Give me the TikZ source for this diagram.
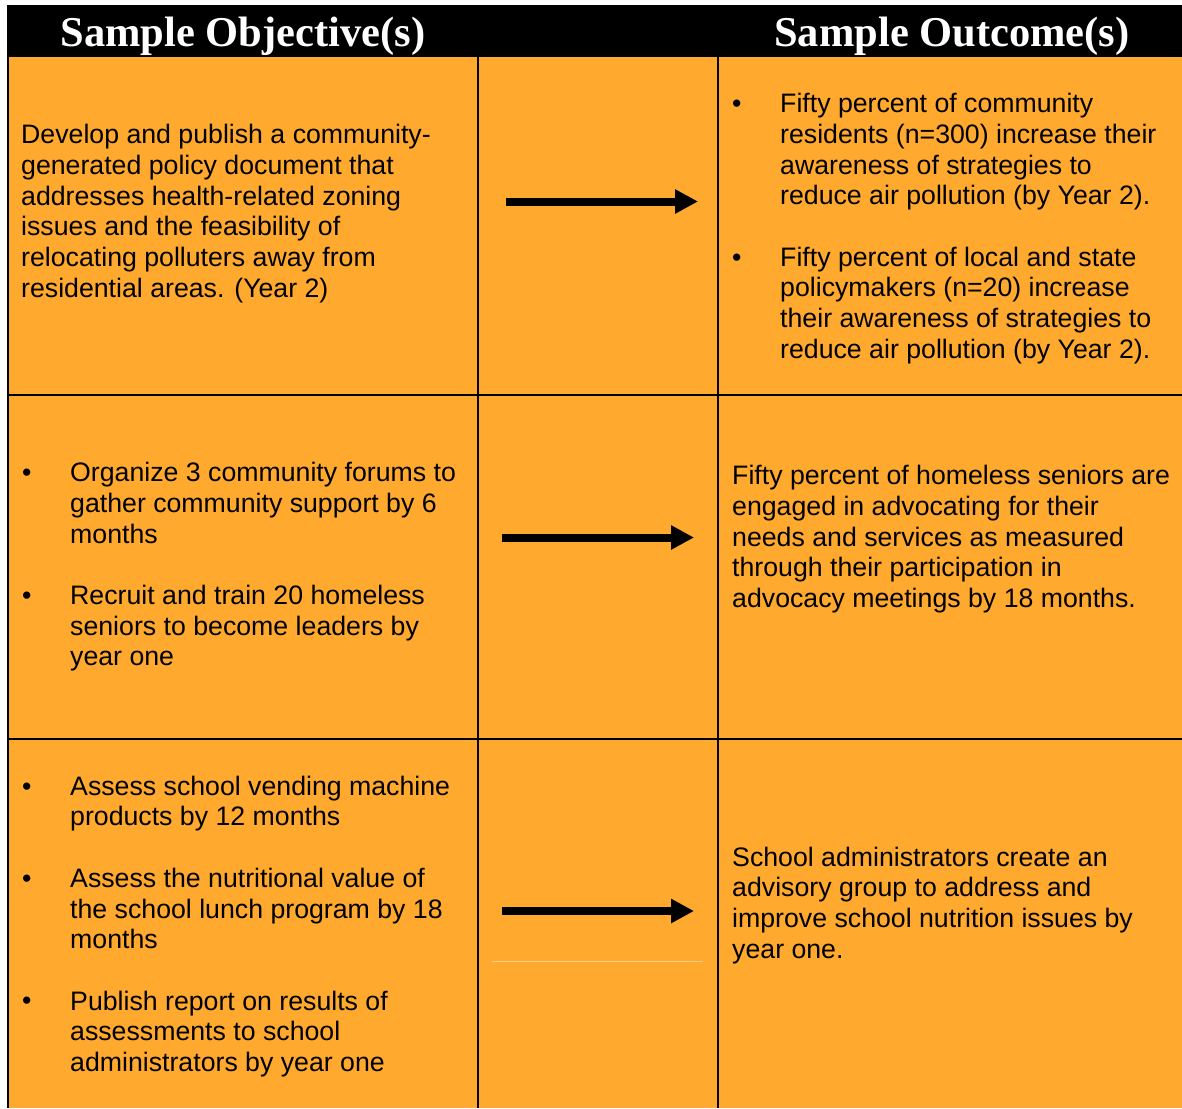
\documentclass[tikz,border=0pt]{standalone}
\usepackage{fontspec}
\setmainfont{Liberation Sans}
\newfontfamily\headfont{Liberation Serif}
\usetikzlibrary{arrows.meta}
\definecolor{cellorange}{RGB}{255,169,46}
\definecolor{faintline}{RGB}{255,205,135}
\newcommand\mystrut{\rule{0pt}{21.5pt}}
\begin{document}
\begin{tikzpicture}[x=1pt,y=-1pt,
  body/.style={anchor=north west, inner sep=0pt, align=left, text=black,
    font=\fontsize{26.7}{30.7}\selectfont},
  bul/.style={anchor=base west, inner sep=0pt, text=black,
    font=\fontsize{26.7}{30.7}\selectfont},
  head/.style={anchor=base, inner sep=0pt, text=white,
    font=\headfont\bfseries\fontsize{42.5}{50}\selectfont},
  gridline/.style={line width=2pt, black},
  bigarrow/.style={line width=8pt, -{Triangle[length=23pt,width=23pt]}}]
\useasboundingbox (0,0) rectangle (1182,1108);
\fill[white] (0,0) rectangle (1182,1108);
% header
\fill[black] (7,5) rectangle (1182,57);
\node[head] (h1) at (243,47) {Sample Objective(s)};
\node[head] (h2) at (952,47) {Sample Outcome(s)};
% body
\fill[cellorange] (8,57) rectangle (1182,1108);
\draw[line width=2.5pt] (8,56) -- (8,1108);
\draw[gridline] (478,57) -- (478,1108);
\draw[gridline] (718,57) -- (718,1108);
\draw[line width=2.5pt] (8,395) -- (1182,395);
\draw[line width=2.5pt] (8,739) -- (1182,739);
\draw[faintline, line width=0.8pt] (492,961) -- (703,961);
% row 1
\node[body] (r1l) at (21,122) {\mystrut Develop and publish a community-\\generated policy document that\\addresses health-related zoning\\issues and the feasibility of\\relocating polluters away from\\residential areas. (Year 2)};
\node[bul] (b1a) at (732,112.5) {\textbullet};
\node[body] (r1ra) at (780,91) {\mystrut Fifty percent of community\\residents (n=300) increase their\\awareness of strategies to\\reduce air pollution (by Year 2).};
\node[bul] (b1b) at (732,266) {\textbullet};
\node[body] (r1rb) at (780,244.5) {\mystrut Fifty percent of local and state\\policymakers (n=20) increase\\their awareness of strategies to\\reduce air pollution (by Year 2).};
% row 2
\node[bul] (b2a) at (22,481.5) {\textbullet};
\node[body] (r2la) at (70,460) {\mystrut Organize 3 community forums to\\gather community support by 6\\months};
\node[bul] (b2b) at (22,604.3) {\textbullet};
\node[body] (r2lb) at (70,582.8) {\mystrut Recruit and train 20 homeless\\seniors to become leaders by\\year one};
\node[body] (r2r) at (732,463) {\mystrut Fifty percent of homeless seniors are\\engaged in advocating for their\\needs and services as measured\\through their participation in\\advocacy meetings by 18 months.};
% row 3
\node[bul] (b3a) at (22,795) {\textbullet};
\node[body] (r3la) at (70,773.5) {\mystrut Assess school vending machine\\products by 12 months};
\node[bul] (b3b) at (22,887.1) {\textbullet};
\node[body] (r3lb) at (70,865.6) {\mystrut Assess the nutritional value of\\the school lunch program by 18\\months};
\node[bul] (b3c) at (22,1009.9) {\textbullet};
\node[body] (r3lc) at (70,988.4) {\mystrut Publish report on results of\\assessments to school\\administrators by year one};
\node[body] (r3r) at (732,844.5) {\mystrut School administrators create an\\advisory group to address and\\improve school nutrition issues by\\year one.};
% arrows
\coordinate (a1s) at (506,201.5);
\coordinate (a1e) at (698,201.5);
\coordinate (a2s) at (502,537.5);
\coordinate (a2e) at (694,537.5);
\coordinate (a3s) at (502,911);
\coordinate (a3e) at (694,911);
\draw[bigarrow] (a1s) -- (a1e);
\draw[bigarrow] (a2s) -- (a2e);
\draw[bigarrow] (a3s) -- (a3e);
\end{tikzpicture}
\end{document}
